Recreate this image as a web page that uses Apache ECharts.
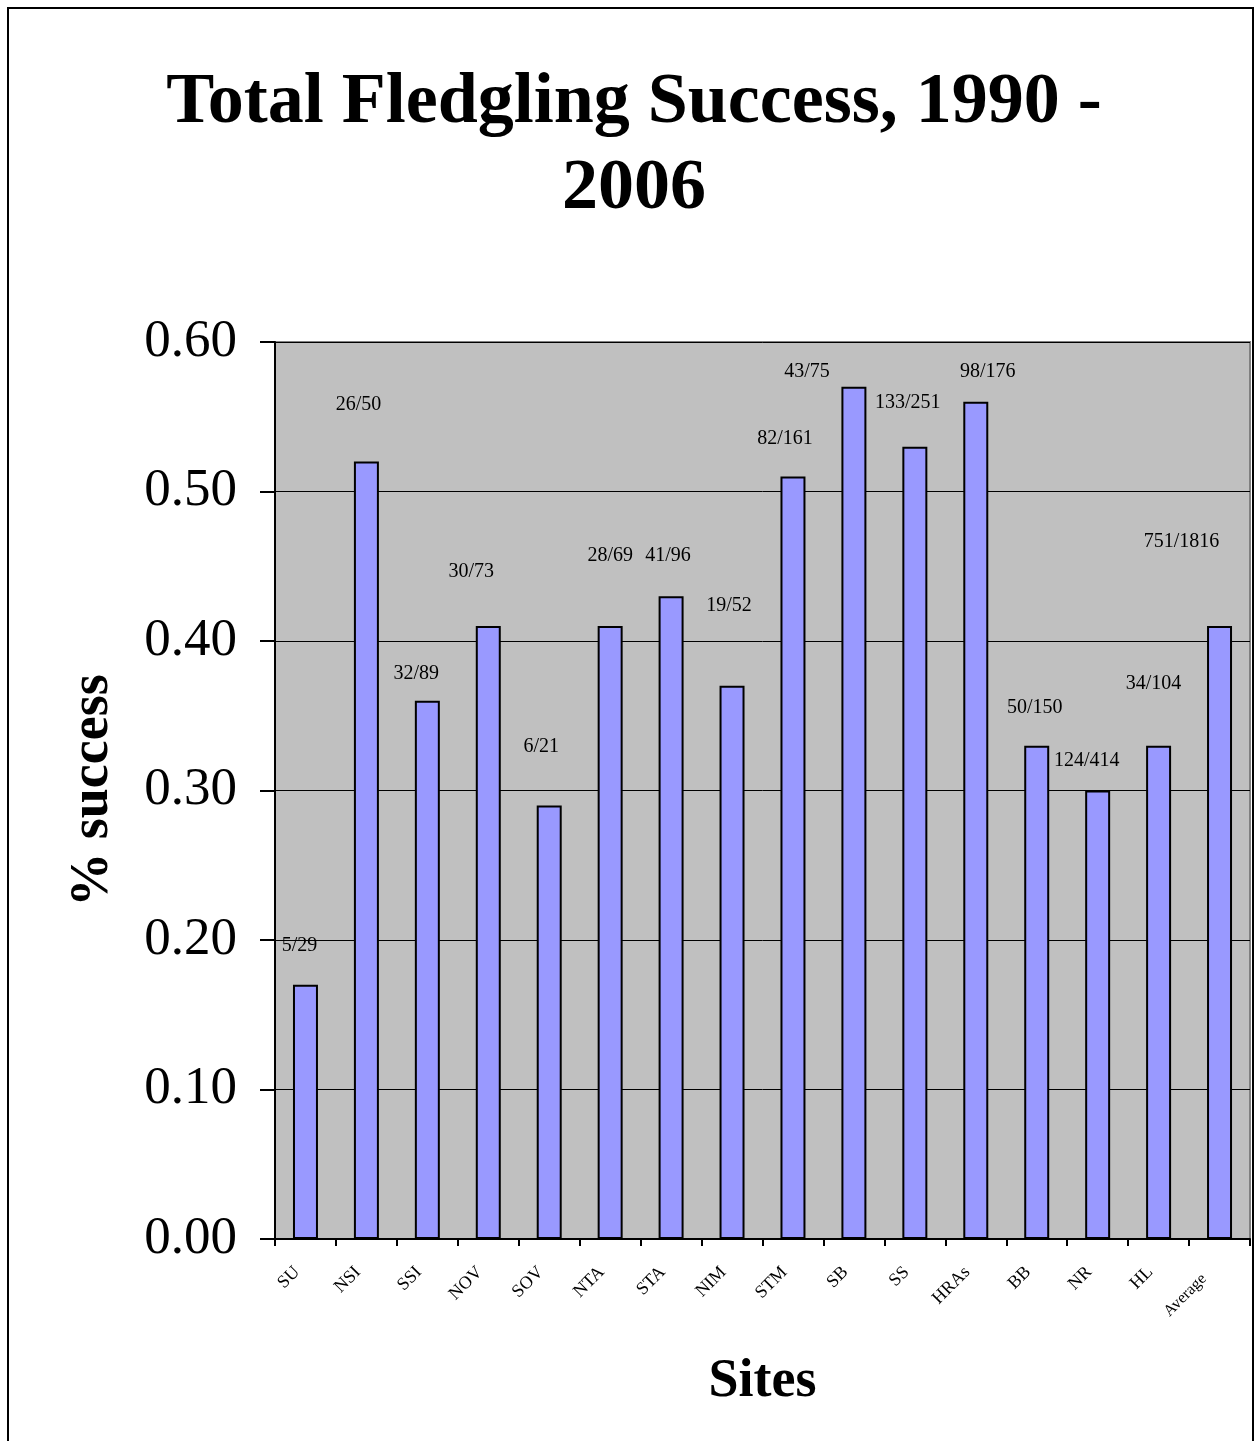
<!DOCTYPE html>
<html>
<head>
<meta charset="utf-8">
<script src="https://cdn.jsdelivr.net/npm/echarts@6/dist/echarts.min.js"></script>
<style>
html,body{margin:0;padding:0;background:#fff;}
#chart{width:1256px;height:1441px;}
</style>
</head>
<body>
<div id="chart"></div>
<script>
const sites = ['SU','NSI','SSI','NOV','SOV','NTA','STA','NIM','STM','SB','SS','HRAs','BB','NR','HL','Average'];
const successRate = [0.17,0.52,0.36,0.41,0.29,0.41,0.43,0.37,0.51,0.57,0.53,0.56,0.33,0.30,0.33,0.41];
const fledgedOfTotal = ['5/29','26/50','32/89','30/73','6/21','28/69','41/96','19/52','82/161','43/75','133/251','98/176','50/150','124/414','34/104','751/1816'];
const yTicks = [0,0.1,0.2,0.3,0.4,0.5,0.6];

// manual label placement (as in the original spreadsheet chart), offsets in px
const labelOffsets = [[-6,-29],[-8,-47],[-11,-17],[-17,-44],[-8,-49],[0,-60],[-3,-30],[-3,-70],
                      [-8,-28],[-47,-5],[-7,-34],[12,-20],[-2,-28],[-11,-20],[-5,-52],[-38,-74]];

const FONT = '"Liberation Serif","Times New Roman",serif';
const chart = echarts.init(document.getElementById('chart'), null, {renderer:'canvas'});

const option = {
  backgroundColor:'#ffffff',
  animation:false,
  title:{
    text:'Total Fledgling Success, 1990 -\n2006',
    left:629, top:55,
    textAlign:'center',
    textStyle:{fontFamily:FONT,fontWeight:'bold',fontSize:72,lineHeight:86,color:'#000'}
  },
  graphic:[{
    type:'rect', silent:true, z:-1,
    shape:{x:8,y:8,width:1245,height:1460},
    style:{fill:'none',stroke:'#000',lineWidth:2}
  }],
  grid:{
    left:275, right:6, top:342, bottom:202,
    show:true, backgroundColor:'#C0C0C0', borderColor:'#808080', borderWidth:2
  },
  xAxis:{
    type:'category',
    data:sites,
    name:'Sites',
    nameLocation:'middle',
    nameGap:116,
    nameTextStyle:{fontFamily:FONT,fontWeight:'bold',fontSize:54,color:'#000'},
    axisLine:{lineStyle:{color:'#000',width:2}},
    axisTick:{show:true,length:7,lineStyle:{color:'#000',width:2}},
    axisLabel:{
      rotate:45, interval:0, margin:22, padding:[0,12,0,0],
      fontFamily:FONT, fontSize:18, color:'#000',
      formatter:v => v === 'Average' ? '{s|' + v + '}' : v,
      rich:{s:{fontFamily:FONT,fontSize:16,color:'#000',padding:[0,10,0,0]}}
    },
    splitLine:{show:false}
  },
  yAxis:{
    type:'value',
    min:yTicks[0], max:yTicks[yTicks.length-1], interval:0.1,
    name:'% success',
    nameLocation:'middle',
    nameGap:155,
    nameRotate:90,
    nameTextStyle:{fontFamily:FONT,fontWeight:'bold',fontSize:54,color:'#000'},
    axisLine:{show:true,lineStyle:{color:'#000',width:2}},
    axisTick:{show:true,length:15,lineStyle:{color:'#000',width:2}},
    axisLabel:{margin:38,fontFamily:FONT,fontSize:53,color:'#000',formatter:v=>v.toFixed(2)},
    splitLine:{show:true,lineStyle:{color:'#000',width:1}}
  },
  series:[{
    type:'bar',
    data:successRate.map((v,i)=>({
      value:v,
      label:{show:true,position:'top',distance:0,offset:labelOffsets[i],
             formatter:fledgedOfTotal[i],fontFamily:FONT,fontSize:20,color:'#000'}
    })),
    barWidth:'41%',
    itemStyle:{color:'#9999FF',borderColor:'#000',borderWidth:2}
  }]
};
chart.setOption(option);
</script>
</body>
</html>
